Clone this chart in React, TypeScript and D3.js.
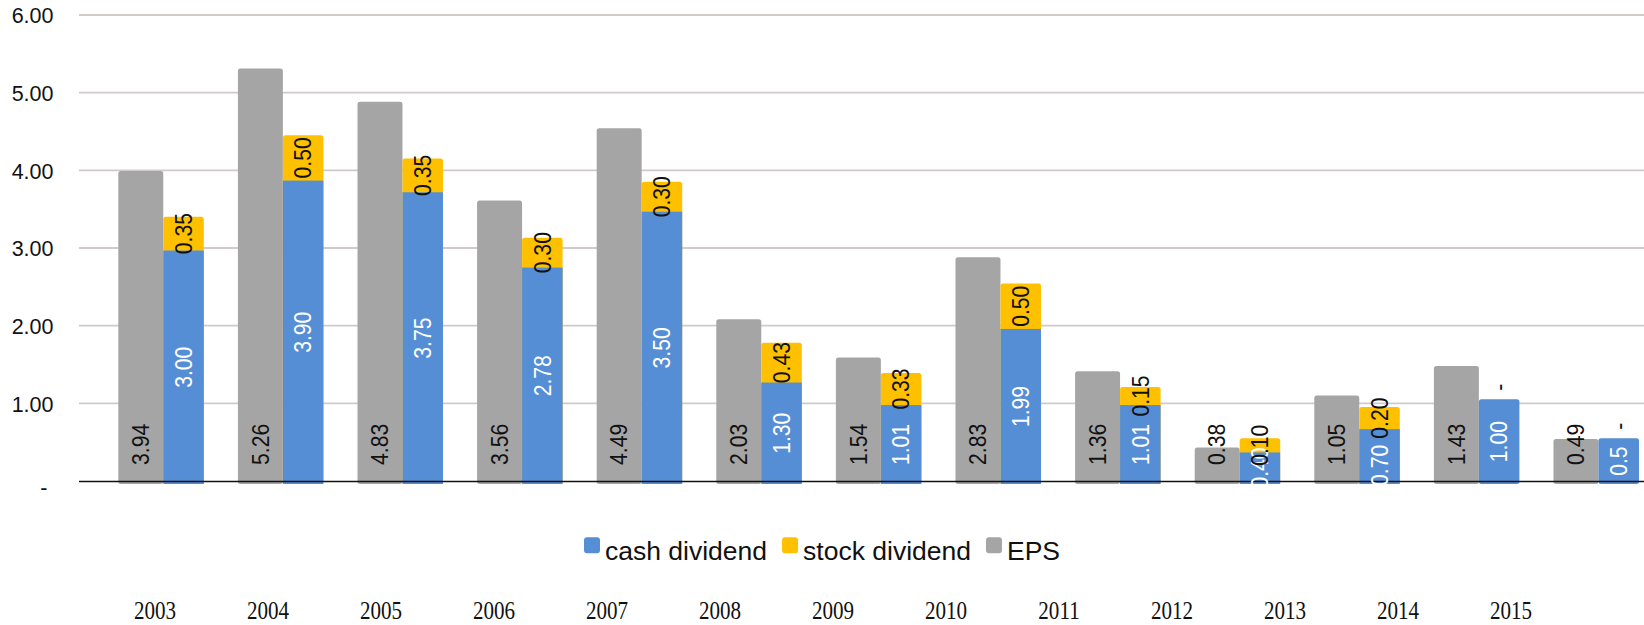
import React, { useEffect, useRef } from "react";
import * as d3 from "d3";

const years = ["2003", "2004", "2005", "2006", "2007", "2008", "2009", "2010", "2011", "2012", "2013", "2014", "2015"];
const eps = [3.94, 5.26, 4.83, 3.56, 4.49, 2.03, 1.54, 2.83, 1.36, 0.38, 1.05, 1.43, 0.49];
const cashDividend = [3.0, 3.9, 3.75, 2.78, 3.5, 1.3, 1.01, 1.99, 1.01, 0.4, 0.7, 1.0, 0.5];
const stockDividend = [0.35, 0.5, 0.35, 0.3, 0.3, 0.43, 0.33, 0.5, 0.15, 0.1, 0.2, 0, 0];
const cashLabels = ["3.00", "3.90", "3.75", "2.78", "3.50", "1.30", "1.01", "1.99", "1.01", "0.40", "0.70", "1.00", "0.5"];
const yTicks = [0, 1, 2, 3, 4, 5, 6];
const yTickLabels = ["-", "1.00", "2.00", "3.00", "4.00", "5.00", "6.00"];
const seriesNames = ["cash dividend", "stock dividend", "EPS"];

const W = 1644;
const H = 625;
const COLORS = ["#558ed5", "#ffc000", "#a5a5a5"];
const SANS = "'Liberation Sans', Arial, Helvetica, sans-serif";
const SERIF = "'Liberation Serif', 'Times New Roman', serif";

export default function App() {
  const ref = useRef<SVGSVGElement>(null);

  useEffect(() => {
    const svg = d3.select(ref.current);
    svg.selectAll("*").remove();

    const y = d3.scaleLinear().domain([0, 6]).range([481, 15]);
    const x = d3.scaleBand().domain(years).range([118.3, 1639]).paddingInner(0.285).paddingOuter(0);
    const xl = d3.scalePoint().domain(years).range([155, 1511]);
    const bw = x.bandwidth();
    const gw = bw * 0.526;
    const cw = bw - gw;
    const left = 79;
    const base = y(0);
    const capUp = 4;
    const baseDown = 3;

    // gridlines
    svg.append("g")
      .selectAll("line")
      .data(yTicks.filter((d) => d > 0))
      .join("line")
      .attr("x1", left)
      .attr("x2", W)
      .attr("y1", (d) => y(d))
      .attr("y2", (d) => y(d))
      .attr("stroke", "#d0cbc8")
      .attr("stroke-width", 1.8);

    // y tick labels
    svg.append("g")
      .selectAll("text")
      .data(yTicks)
      .join("text")
      .attr("x", 53.5)
      .attr("y", (d) => y(d) + 8.3)
      .attr("dx", (d, i) => (yTickLabels[i] === "-" ? -6 : 0))
      .attr("dy", (d, i) => (yTickLabels[i] === "-" ? 6 : 0))
      .attr("text-anchor", "end")
      .attr("font-family", SANS)
      .attr("font-size", 21.5)
      .attr("fill", "#111")
      .text((d, i) => yTickLabels[i]);

    const rows = years.map((yr, i) => ({ yr, e: eps[i], c: cashDividend[i], s: stockDividend[i], cl: cashLabels[i] }));

    const g = svg.append("g");
    // EPS bars
    g.selectAll("rect.eps")
      .data(rows)
      .join("rect")
      .attr("class", "eps")
      .attr("x", (d) => x(d.yr)!)
      .attr("width", gw)
      .attr("y", (d) => y(d.e) - capUp)
      .attr("height", (d) => base + baseDown - (y(d.e) - capUp))
      .attr("rx", 2.5)
      .attr("fill", COLORS[2]);

    // stock bars (extend down, covered by cash)
    g.selectAll("rect.stock")
      .data(rows.filter((d) => d.s > 0))
      .join("rect")
      .attr("class", "stock")
      .attr("x", (d) => x(d.yr)! + gw)
      .attr("width", cw)
      .attr("y", (d) => y(d.c + d.s) - capUp)
      .attr("height", (d) => base + baseDown - (y(d.c + d.s) - capUp))
      .attr("rx", 2.5)
      .attr("fill", COLORS[1]);

    const cashTop = (d: any) => (d.s > 0 ? y(d.c) + 2.5 : y(d.c) - capUp);

    g.selectAll("rect.cash")
      .data(rows)
      .join("rect")
      .attr("class", "cash")
      .attr("x", (d) => x(d.yr)! + gw)
      .attr("width", cw)
      .attr("y", (d) => cashTop(d))
      .attr("height", (d) => base + baseDown - cashTop(d))
      .attr("rx", (d) => (d.s > 0 ? 0 : 2.5))
      .attr("fill", COLORS[0]);

    // baseline
    svg.append("line")
      .attr("x1", left)
      .attr("x2", W)
      .attr("y1", base + 0.5)
      .attr("y2", base + 0.5)
      .attr("stroke", "#111")
      .attr("stroke-width", 1.5);

    const labelFont = 23;
    const half = 0.358 * labelFont;
    const halfLen = 20.6;
    const lab = svg.append("g").attr("font-family", SANS).attr("font-size", labelFont);

    const stockCenter = (d: any) =>
      d.s > 0 ? (y(d.c + d.s) - capUp + y(d.c) + 2.5) / 2 : y(d.c) - capUp - 12;
    const cashCenter = (d: any) => {
      const seg = (cashTop(d) + base + baseDown) / 2;
      if (d.s <= 0) return seg;
      const avoid = stockCenter(d) + halfLen + 6 + halfLen;
      return Math.min(Math.max(seg, avoid), base - 13);
    };

    // EPS labels
    lab.selectAll("text.epsl")
      .data(rows)
      .join("text")
      .attr("class", "epsl")
      .attr("transform", (d) => `translate(${x(d.yr)! + gw / 2 + half},${base - 16}) rotate(-90) scale(0.92,1)`)
      .attr("text-anchor", "start")
      .attr("fill", "#111")
      .text((d) => d3.format(".2f")(d.e));

    // cash labels
    lab.selectAll("text.cashl")
      .data(rows)
      .join("text")
      .attr("class", "cashl")
      .attr("transform", (d) => `translate(${x(d.yr)! + gw + cw / 2 + half},${cashCenter(d)}) rotate(-90) scale(0.92,1)`)
      .attr("text-anchor", "middle")
      .attr("fill", "#fff")
      .text((d) => d.cl);

    // stock labels
    lab.selectAll("text.stockl")
      .data(rows)
      .join("text")
      .attr("class", "stockl")
      .attr("transform", (d) => `translate(${x(d.yr)! + gw + cw / 2 + half},${stockCenter(d)}) rotate(-90) scale(0.92,1)`)
      .attr("text-anchor", "middle")
      .attr("fill", "#111")
      .text((d) => (d.s > 0 ? d3.format(".2f")(d.s) : "-"));

    // legend
    const leg = svg.append("g").attr("font-family", SANS).attr("font-size", 26.5);
    const items = seriesNames.map((name, i) => {
      const gi = leg.append("g");
      gi.append("rect").attr("x", 0).attr("y", 537.3).attr("width", 16).attr("height", 16).attr("rx", 3).attr("fill", COLORS[i]);
      const t = gi.append("text").attr("x", 21).attr("y", 560).attr("fill", "#111").text(name);
      const w = 21 + (t.node() as SVGTextElement).getComputedTextLength();
      return { gi, w };
    });
    const gap = 15;
    const total = d3.sum(items, (d) => d.w) + gap * (items.length - 1);
    let cx = W / 2 - total / 2;
    items.forEach((it) => {
      it.gi.attr("transform", `translate(${cx},0)`);
      cx += it.w + gap;
    });

    // x labels (separate row)
    svg.append("g")
      .selectAll("text")
      .data(years)
      .join("text")
      .attr("transform", (d) => `translate(${xl(d)},619.3) scale(0.86,1)`)
      .attr("text-anchor", "middle")
      .attr("font-family", SERIF)
      .attr("font-size", 24.5)
      .attr("fill", "#111")
      .text((d) => d);
  }, []);

  return (
    <svg
      ref={ref}
      width={W}
      height={H}
      style={{ position: "fixed", left: 0, top: 0, background: "#fff", display: "block" }}
    />
  );
}
